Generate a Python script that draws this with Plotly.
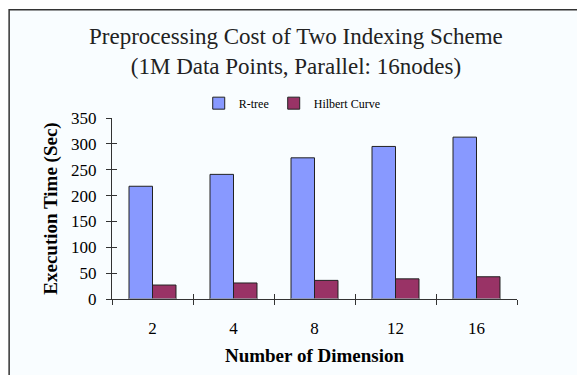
import plotly.graph_objects as go

dims = ["2", "4", "8", "12", "16"]
rtree = [218, 241, 273, 295, 313]
hilbert = [27, 31, 36, 39, 43]
y_ticks = [0, 50, 100, 150, 200, 250, 300, 350]

serif = "Liberation Serif, Times New Roman, serif"

fig = go.Figure()
fig.add_trace(go.Bar(x=dims, y=rtree, name="R-tree",
                     marker=dict(color="#8899FF", line=dict(color="#222222", width=1))))
fig.add_trace(go.Bar(x=dims, y=hilbert, name="Hilbert Curve",
                     marker=dict(color="#993366", line=dict(color="#222222", width=1))))
# invisible trace for inner ticks
fig.add_trace(go.Bar(x=dims, y=[0]*5, xaxis="x2", yaxis="y2", showlegend=False,
                     hoverinfo="skip", marker=dict(color="rgba(0,0,0,0)")))

fig.update_layout(
    width=577, height=375,
    margin=dict(l=112, r=60, t=118, b=74),
    paper_bgcolor="white",
    plot_bgcolor="rgba(0,0,0,0)",
    barmode="group", bargap=0.42, bargroupgap=0,
    font=dict(family=serif, color="#000000"),
    showlegend=True,
    legend=dict(orientation="h", x=0.445, y=1.082, xanchor="center", yanchor="middle",
                font=dict(size=12, family=serif), bgcolor="rgba(0,0,0,0)",
                itemwidth=30, tracegroupgap=0),
    xaxis=dict(type="category", showline=True, linecolor="#333333", linewidth=1,
               ticks="outside", tickson="boundaries", ticklen=5, tickcolor="#333333",
               tickfont=dict(size=17, family=serif), ticklabelstandoff=14,
               showgrid=False, zeroline=False,
               title=dict(text="<b>Number of Dimension</b>", font=dict(size=19, family=serif),
                          standoff=11)),
    yaxis=dict(range=[0, 350], tickvals=y_ticks, showline=True, linecolor="#333333",
               linewidth=1, ticks="outside", ticklen=5, tickcolor="#333333",
               tickfont=dict(size=17, family=serif), ticklabelstandoff=6,
               showgrid=False, zeroline=False,
               title=dict(text="<b>Execution Time (Sec)</b>", font=dict(size=19, family=serif),
                          standoff=8)),
    xaxis2=dict(type="category", overlaying="x", matches="x", ticks="inside",
                tickson="boundaries", ticklen=5, tickcolor="#333333", showticklabels=False,
                showgrid=False, zeroline=False, showline=False),
    yaxis2=dict(overlaying="y", range=[0, 350], tickvals=y_ticks, ticks="inside", ticklen=5,
                tickcolor="#333333", showticklabels=False, showgrid=False, zeroline=False,
                showline=False),
)

# chart frame
fig.add_shape(type="rect", xref="paper", yref="paper", x0=-0.254, x1=1.2, y0=-0.5, y1=1.598,
              line=dict(color="#333333", width=1.5), fillcolor="#F9FDFF", layer="below")

fig.add_annotation(text="Preprocessing Cost of Two Indexing Scheme<br>(1M Data Points, Parallel: 16nodes)",
                   xref="paper", yref="paper", x=0.455, y=1.37, xanchor="center", yanchor="middle",
                   showarrow=False, font=dict(size=23, family=serif, color="#222222"))

fig.write_html("out.html")
